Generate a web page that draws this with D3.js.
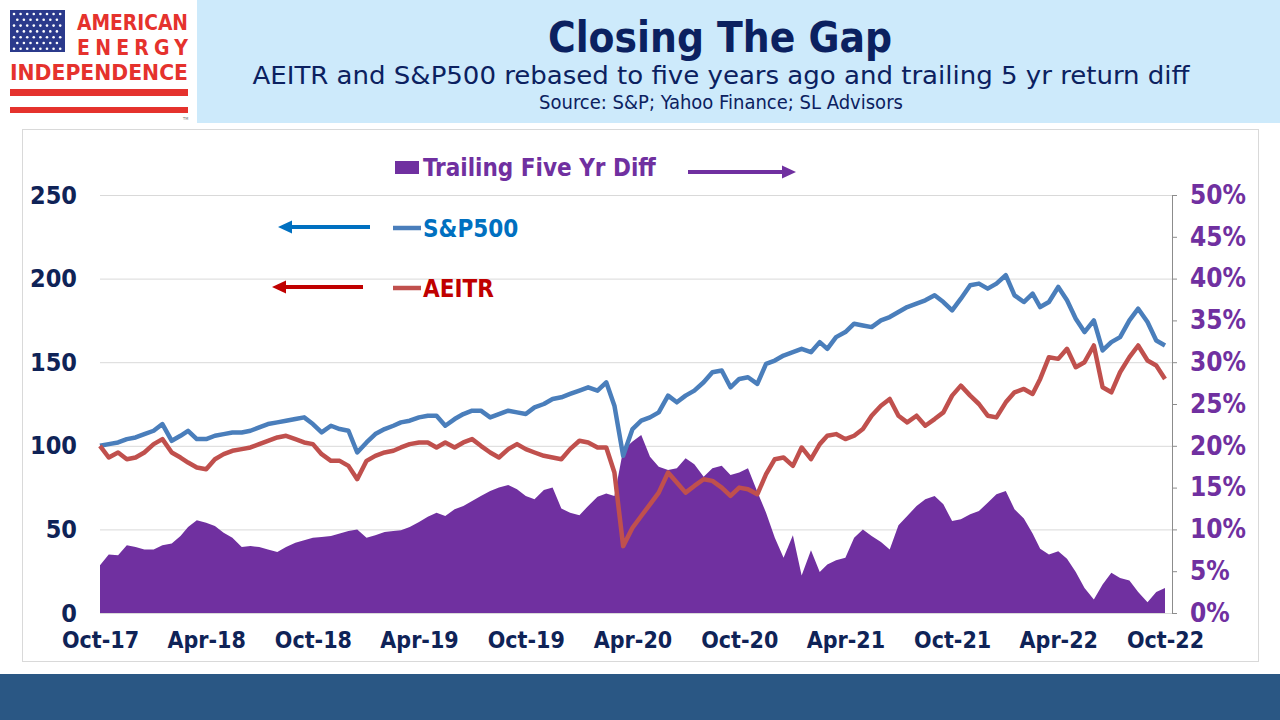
<!DOCTYPE html>
<html>
<head>
<meta charset="utf-8">
<script src="https://cdn.jsdelivr.net/npm/d3@7"></script>
<style>
  body { margin: 0; background: #fff; }
  svg { display: block; }
  text { font-family: "DejaVu Sans Condensed", "DejaVu Sans", sans-serif; }
</style>
</head>
<body>
<svg id="chart" width="1280" height="720"></svg>
<script>
// readings, one per half month (1st and 16th), Oct-17 .. Oct-22
let sp500 = [
  100, 101, 102, 104, 105, 107, 109, 113, 103, 106, 109, 104,
  104, 106, 107, 108, 108, 109, 111, 113, 114, 115, 116, 117,
  113, 108, 112, 110, 109, 96, 102, 107, 110, 112, 114, 115,
  117, 118, 118, 112, 116, 119, 121, 121, 117, 119, 121, 120,
  119, 123, 125, 128, 129, 131, 133, 135, 133, 138, 124, 94,
  110, 115, 117, 120, 130, 126, 130, 133, 138, 144, 145, 135,
  140, 141, 137, 149, 151, 154, 156, 158, 156, 162, 158, 165,
  168, 173, 172, 171, 175, 177, 180, 183, 185, 187, 190, 186,
  181, 188, 196, 197, 194, 197, 202, 190, 186, 191, 183, 186,
  195, 187, 176, 168, 175, 157, 162, 165, 175, 182, 174, 163,
  160
];
let aeitr = [
  100, 93, 96, 92, 93, 96, 101, 104, 96, 93, 90, 87,
  86, 92, 95, 97, 98, 99, 101, 103, 105, 106, 104, 102,
  101, 95, 91, 91, 88, 80, 91, 94, 96, 97, 99, 101,
  102, 102, 99, 102, 99, 102, 104, 100, 96, 93, 98, 101,
  98, 96, 94, 93, 92, 98, 103, 102, 99, 99, 84, 40,
  51, 58, 65, 72, 84, 78, 72, 76, 80, 79, 75, 70,
  75, 74, 71, 83, 92, 93, 88, 99, 92, 101, 106, 107,
  104, 106, 110, 118, 124, 128, 118, 114, 118, 112, 116, 120,
  130, 136, 130, 125, 118, 117, 126, 132, 134, 131, 140, 153,
  152, 158, 147, 150, 160, 135, 132, 144, 153, 160, 151, 148,
  140
];
let diffPct = [
  5.7, 7.0, 6.9, 8.1, 7.9, 7.6, 7.6, 8.1, 8.3, 9.2, 10.3, 11.1,
  10.8, 10.4, 9.6, 9.0, 7.9, 8.0, 7.9, 7.6, 7.3, 7.9, 8.4, 8.7,
  9.0, 9.1, 9.2, 9.5, 9.8, 10.0, 9.0, 9.3, 9.7, 9.8, 9.9, 10.3,
  10.9, 11.5, 12.0, 11.6, 12.4, 12.8, 13.4, 14.0, 14.6, 15.0, 15.3, 14.8,
  14.0, 13.6, 14.7, 15.0, 12.5, 12.0, 11.7, 12.8, 13.9, 14.3, 14.0, 19.5,
  20.5, 21.3, 18.7, 17.5, 17.1, 17.3, 18.5, 17.8, 16.3, 17.3, 17.6, 16.5,
  16.8, 17.3, 14.5, 12.0, 9.0, 6.6, 9.3, 4.5, 7.5, 4.9, 5.8, 6.3,
  6.6, 9.0, 10.0, 9.2, 8.5, 7.6, 10.5, 11.6, 12.8, 13.6, 14.0, 13.0,
  11.0, 11.2, 11.8, 12.2, 13.2, 14.2, 14.6, 12.4, 11.3, 9.5, 7.7, 7.0,
  7.4, 6.5, 4.9, 3.0, 1.6, 3.4, 4.8, 4.2, 3.9, 2.5, 1.3, 2.5,
  3.0
];
let leftTicks = [0, 50, 100, 150, 200, 250];
let rightTicks = [0, 5, 10, 15, 20, 25, 30, 35, 40, 45, 50];
let xTickLabels = ["Oct-17", "Apr-18", "Oct-18", "Apr-19", "Oct-19", "Apr-20",
                   "Oct-20", "Apr-21", "Oct-21", "Apr-22", "Oct-22"];

let dates = sp500.map((d, i) => new Date(2017, 9 + Math.floor(i / 2), i % 2 ? 16 : 1));
let rows = dates.map((d, i) => ({date: d, sp: sp500[i], ae: aeitr[i], diff: diffPct[i]}));
let xTicks = xTickLabels.map((d, i) => new Date(2017, 9 + 6 * i, 1));

let navy = "#0f2357", purple = "#7030a0";
let font = "'DejaVu Sans Condensed','DejaVu Sans',sans-serif";
let svg = d3.select("#chart");

// header banner and logo
svg.append("rect").attr("x", 197).attr("y", 0).attr("width", 1083).attr("height", 123).attr("fill", "#cdeafb");

let logo = svg.append("g");
logo.append("rect").attr("x", 10).attr("y", 10).attr("width", 55).attr("height", 42).attr("fill", "#2b3a8c");
d3.range(7).forEach(r => {
  d3.range(r % 2 ? 7 : 8).forEach(c => {
    logo.append("circle")
      .attr("cx", 14 + c * 6.6 + (r % 2 ? 3.3 : 0))
      .attr("cy", 14 + r * 5.8)
      .attr("r", 1.3)
      .attr("fill", "#fff");
  });
});
logo.append("text").attr("x", 77).attr("y", 30).attr("textLength", 111).attr("lengthAdjust", "spacingAndGlyphs")
  .attr("fill", "#e5322d").style("font-size", "21px").style("font-weight", "bold").text("AMERICAN");
logo.append("text").attr("x", 77).attr("y", 55).attr("textLength", 111).attr("lengthAdjust", "spacing")
  .attr("fill", "#e5322d").style("font-size", "21px").style("font-weight", "bold").text("ENERGY");
logo.append("text").attr("x", 10).attr("y", 80).attr("textLength", 178).attr("lengthAdjust", "spacingAndGlyphs")
  .attr("fill", "#e5322d").style("font-size", "21px").style("font-weight", "bold").text("INDEPENDENCE");
logo.append("rect").attr("x", 10).attr("y", 89).attr("width", 178).attr("height", 7).attr("fill", "#e5322d");
logo.append("rect").attr("x", 10).attr("y", 107).attr("width", 178).attr("height", 6).attr("fill", "#e5322d");
logo.append("text").attr("x", 183).attr("y", 120).attr("fill", "#777").style("font-size", "4px").text("TM");

svg.append("text").attr("x", 720).attr("y", 52).attr("text-anchor", "middle")
  .attr("fill", "#0b2160").style("font-size", "42px").style("font-weight", "bold").text("Closing The Gap");
svg.append("text").attr("x", 721).attr("y", 84).attr("text-anchor", "middle")
  .attr("textLength", 937).attr("lengthAdjust", "spacingAndGlyphs")
  .attr("fill", "#0b2160").style("font-size", "24px").text("AEITR and S&P500 rebased to five years ago and trailing 5 yr return diff");
svg.append("text").attr("x", 721).attr("y", 109).attr("text-anchor", "middle")
  .attr("fill", "#0b2160").style("font-size", "20px").text("Source: S&P; Yahoo Finance; SL Advisors");

// chart frame and footer band
svg.append("rect").attr("x", 22.5).attr("y", 129.5).attr("width", 1236).attr("height", 532)
  .attr("fill", "none").attr("stroke", "#d9d9d9");
svg.append("rect").attr("x", 0).attr("y", 674).attr("width", 1280).attr("height", 46).attr("fill", "#2a5784");

// scales
let x = d3.scaleTime().domain([new Date(2017, 9, 1), new Date(2022, 9, 1)]).range([100, 1165]);
let yL = d3.scaleLinear().domain([0, 250]).range([613, 195]);
let yR = d3.scaleLinear().domain([0, 50]).range([613, 195]);

// gridlines
svg.append("g").selectAll("line").data(leftTicks).join("line")
  .attr("x1", 100).attr("x2", 1172)
  .attr("y1", d => yL(d) + 0.5).attr("y2", d => yL(d) + 0.5)
  .attr("stroke", "#d9d9d9").attr("stroke-width", 1);

// trailing five yr diff area
svg.append("path").datum(rows)
  .attr("fill", purple)
  .attr("d", d3.area().x(d => x(d.date)).y0(yR(0)).y1(d => yR(d.diff)));

// lines
let lineSp = d3.line().x(d => x(d.date)).y(d => yL(d.sp));
let lineAe = d3.line().x(d => x(d.date)).y(d => yL(d.ae));
svg.append("path").datum(rows).attr("fill", "none").attr("stroke", "#4a7ebb")
  .attr("stroke-width", 4.5).attr("stroke-linejoin", "round").attr("d", lineSp);
svg.append("path").datum(rows).attr("fill", "none").attr("stroke", "#c0504d")
  .attr("stroke-width", 4.5).attr("stroke-linejoin", "round").attr("d", lineAe);

// axes
let gL = svg.append("g").attr("transform", "translate(100,0)")
  .call(d3.axisLeft(yL).tickValues(leftTicks).tickSize(0).tickPadding(23));
gL.select(".domain").remove();
gL.selectAll("text").attr("fill", navy).style("font-size", "25px").style("font-weight", "bold")
  .style("font-family", font);

let gR = svg.append("g").attr("transform", "translate(1172,0)")
  .call(d3.axisRight(yR).tickValues(rightTicks).tickSize(5).tickPadding(13).tickFormat(d => d + "%"));
gR.select(".domain").attr("stroke", "#8c8c8c");
gR.selectAll(".tick line").attr("stroke", "#8c8c8c");
gR.selectAll("text").attr("fill", purple).style("font-size", "26px").style("font-weight", "bold")
  .style("font-family", font);

let gX = svg.append("g").attr("transform", "translate(0,613)")
  .call(d3.axisBottom(x).tickValues(xTicks).tickSize(0).tickPadding(19)
    .tickFormat((d, i) => xTickLabels[i]));
gX.select(".domain").remove();
gX.selectAll("text").attr("fill", navy).style("font-size", "23px").style("font-weight", "bold")
  .style("font-family", font);

// legend
let leg = svg.append("g").style("font-size", "24px").style("font-weight", "bold");
leg.append("rect").attr("x", 395).attr("y", 161).attr("width", 24).attr("height", 13).attr("fill", purple);
leg.append("text").attr("x", 423).attr("y", 176).attr("fill", purple).text("Trailing Five Yr Diff");
leg.append("line").attr("x1", 393).attr("x2", 421).attr("y1", 228).attr("y2", 228)
  .attr("stroke", "#4a7ebb").attr("stroke-width", 4.5);
leg.append("text").attr("x", 423).attr("y", 237).attr("fill", "#0070c0").text("S&P500");
leg.append("line").attr("x1", 393).attr("x2", 421).attr("y1", 288).attr("y2", 288)
  .attr("stroke", "#c0504d").attr("stroke-width", 4.5);
leg.append("text").attr("x", 423).attr("y", 297).attr("fill", "#c00000").text("AEITR");

function arrow(x1, x2, y, color) {
  let dir = x2 > x1 ? 1 : -1;
  svg.append("line").attr("x1", x1).attr("x2", x2 - dir * 12).attr("y1", y).attr("y2", y)
    .attr("stroke", color).attr("stroke-width", 4);
  svg.append("path")
    .attr("d", `M${x2},${y} L${x2 - dir * 14},${y - 6.5} L${x2 - dir * 14},${y + 6.5} Z`)
    .attr("fill", color);
}
arrow(688, 796, 172, purple);
arrow(370, 278, 227, "#0070c0");
arrow(363, 272, 287, "#c00000");
</script>
</body>
</html>
